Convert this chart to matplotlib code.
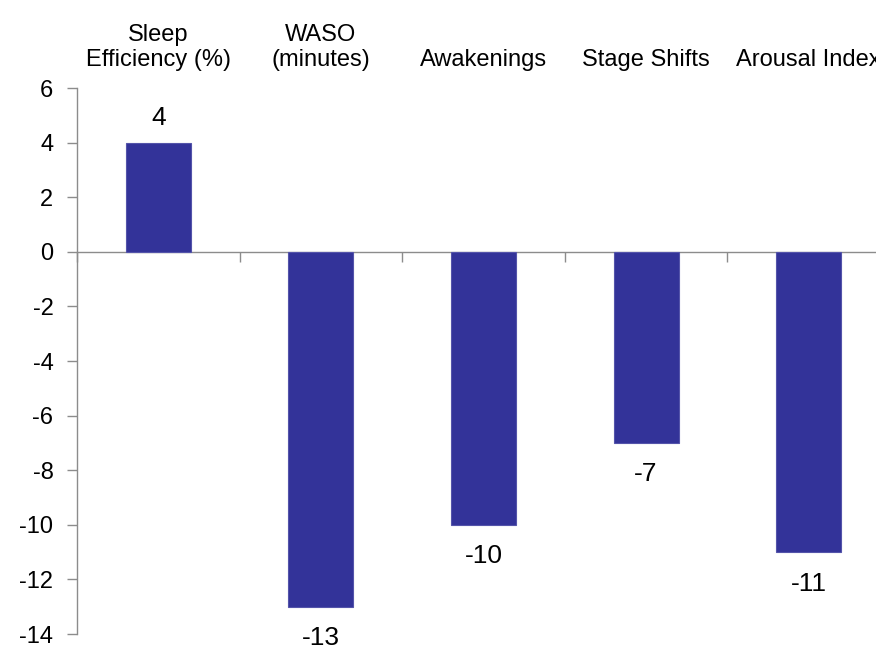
import numpy as np
import matplotlib
matplotlib.use("Agg")
import matplotlib.pyplot as plt

plt.rcParams["font.family"] = ["Liberation Sans", "DejaVu Sans"]

categories = ["Sleep\nEfficiency (%)", "WASO\n(minutes)", "Awakenings", "Stage Shifts", "Arousal Index"]
values = [4, -13, -10, -7, -11]
y_ticks = [6, 4, 2, 0, -2, -4, -6, -8, -10, -12, -14]

BAR = "#333399"
GREY = "#8c8c8c"

fig = plt.figure(figsize=(8.76, 6.49), dpi=100)
ax = fig.add_axes([0.0879, 0.0231, 1.016 - 0.0879, 0.8644 - 0.0231])

x = np.arange(len(categories))
bars = ax.bar(x, values, width=0.4, color=BAR, edgecolor="#5454aa", linewidth=0.8, zorder=3)

ax.set_xlim(-0.5, len(categories) - 0.5)
ax.set_ylim(-14, 6)
ax.set_yticks(y_ticks)
ax.set_yticklabels([str(v) for v in y_ticks])

# category labels on top, boundary ticks on the zero line
ax.set_xticks(x)
ax.set_xticklabels(categories)
ax.set_xticks(np.arange(len(categories) + 1) - 0.5, minor=True)
ax.spines["bottom"].set_position(("data", 0))
ax.tick_params(axis="x", which="major", bottom=False, top=False, labelbottom=False,
               labeltop=True, length=0, pad=12, labelsize=17)
ax.tick_params(axis="x", which="minor", bottom=True, top=False, direction="out",
               length=7, color=GREY, width=1)
ax.tick_params(axis="y", direction="out", length=7, color=GREY, width=1,
               labelsize=17, pad=10)

for s in ["top", "right"]:
    ax.spines[s].set_visible(False)
for s in ["left", "bottom"]:
    ax.spines[s].set_color(GREY)
    ax.spines[s].set_linewidth(1)

for xi, v in zip(x, values):
    off = 9 if v >= 0 else -14
    ax.annotate(str(v), (xi, v), xytext=(0, off), textcoords="offset points",
                ha="center", va="bottom" if v >= 0 else "top", fontsize=19)

fig.savefig("out.png", dpi=100)
